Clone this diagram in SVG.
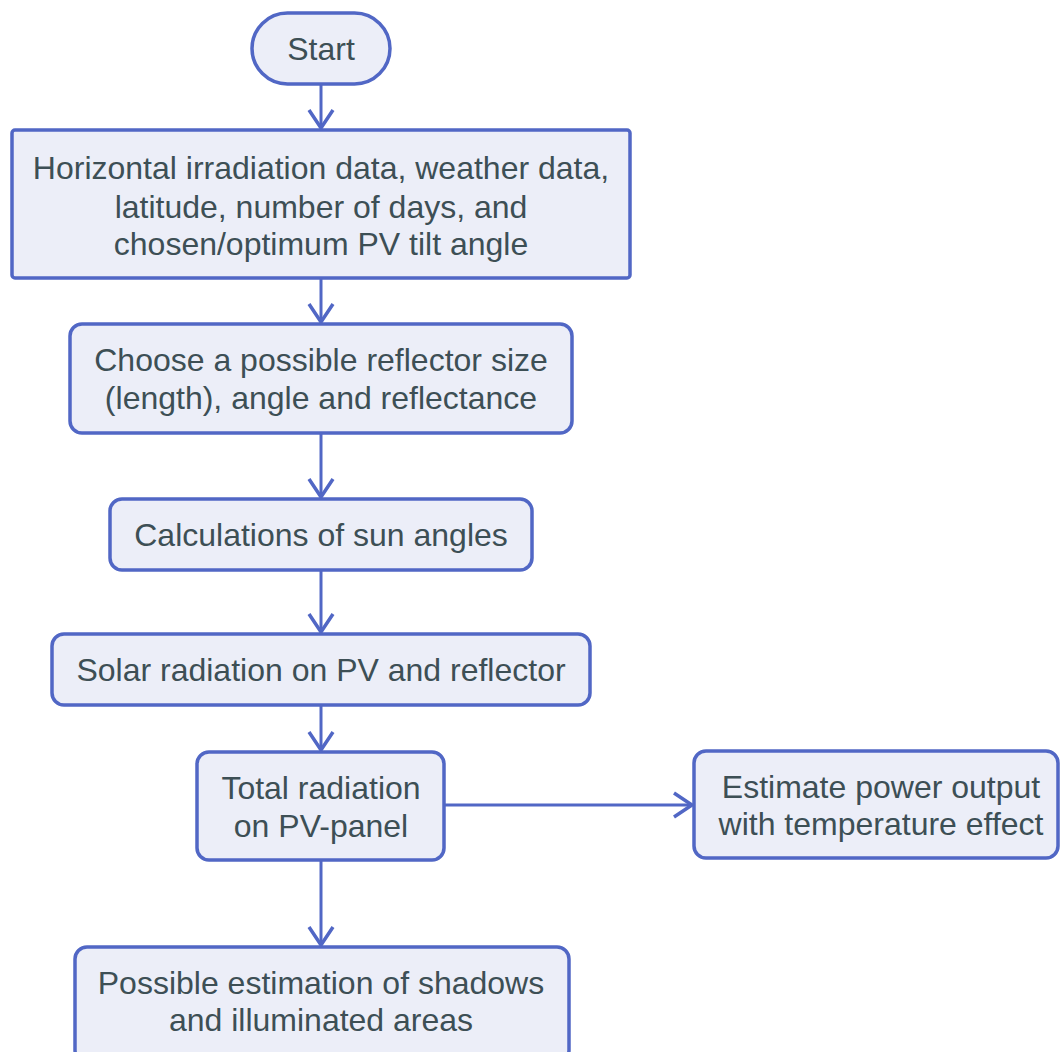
<svg xmlns="http://www.w3.org/2000/svg" width="1060" height="1052" viewBox="0 0 1060 1052">
<style>
.n{fill:#eceef8;stroke:#5167c5;stroke-width:3.5}
.t{font-family:"Liberation Sans",Arial,sans-serif;font-size:32px;fill:#3d4f55;text-anchor:middle;dominant-baseline:central}
.c{fill:none;stroke:#5167c5;stroke-width:3}
</style>
<defs>
<marker id="a" viewBox="0 0 22 28" refX="20" refY="14" markerWidth="22" markerHeight="28" markerUnits="userSpaceOnUse" orient="auto">
<path d="M2,2 L20,14 L2,26" fill="none" stroke="#5167c5" stroke-width="3.5"/>
</marker>
</defs>
<rect width="1060" height="1052" fill="#ffffff"/>
<g id="connectors">
<line class="c" x1="321" y1="84" x2="321" y2="128" marker-end="url(#a)"/>
<line class="c" x1="321" y1="278" x2="321" y2="322" marker-end="url(#a)"/>
<line class="c" x1="321" y1="433" x2="321" y2="497" marker-end="url(#a)"/>
<line class="c" x1="321" y1="570" x2="321" y2="632" marker-end="url(#a)"/>
<line class="c" x1="321" y1="705" x2="321" y2="750" marker-end="url(#a)"/>
<line class="c" x1="321" y1="860" x2="321" y2="945" marker-end="url(#a)"/>
<line class="c" x1="444" y1="805" x2="692" y2="805" marker-end="url(#a)"/>
</g>
<g id="start">
<rect class="n" x="252" y="13" width="138" height="71" rx="35.5"/>
<text class="t" x="321" y="49">Start</text>
</g>
<g id="input">
<rect class="n" x="12" y="130" width="618" height="148" rx="3"/>
<text class="t" x="321" y="168">Horizontal irradiation data, weather data,</text>
<text class="t" x="321" y="207">latitude, number of days, and</text>
<text class="t" x="321" y="244">chosen/optimum PV tilt angle</text>
</g>
<g id="reflector">
<rect class="n" x="70" y="324" width="502" height="109" rx="12"/>
<text class="t" x="321" y="360">Choose a possible reflector size</text>
<text class="t" x="321" y="398">(length), angle and reflectance</text>
</g>
<g id="sunangles">
<rect class="n" x="110" y="499" width="422" height="71" rx="12"/>
<text class="t" x="321" y="535">Calculations of sun angles</text>
</g>
<g id="solar">
<rect class="n" x="52" y="634" width="538" height="71" rx="12"/>
<text class="t" x="321" y="670">Solar radiation on PV and reflector</text>
</g>
<g id="total">
<rect class="n" x="197" y="752" width="247" height="108" rx="12"/>
<text class="t" x="321" y="788">Total radiation</text>
<text class="t" x="321" y="826">on PV-panel</text>
</g>
<g id="power">
<rect class="n" x="694" y="751" width="364" height="107" rx="12"/>
<text class="t" x="881" y="787">Estimate power output</text>
<text class="t" x="881" y="824">with temperature effect</text>
</g>
<g id="shadows">
<rect class="n" x="75" y="947" width="494" height="115" rx="12"/>
<text class="t" x="321" y="983">Possible estimation of shadows</text>
<text class="t" x="321" y="1020">and illuminated areas</text>
</g>
</svg>
